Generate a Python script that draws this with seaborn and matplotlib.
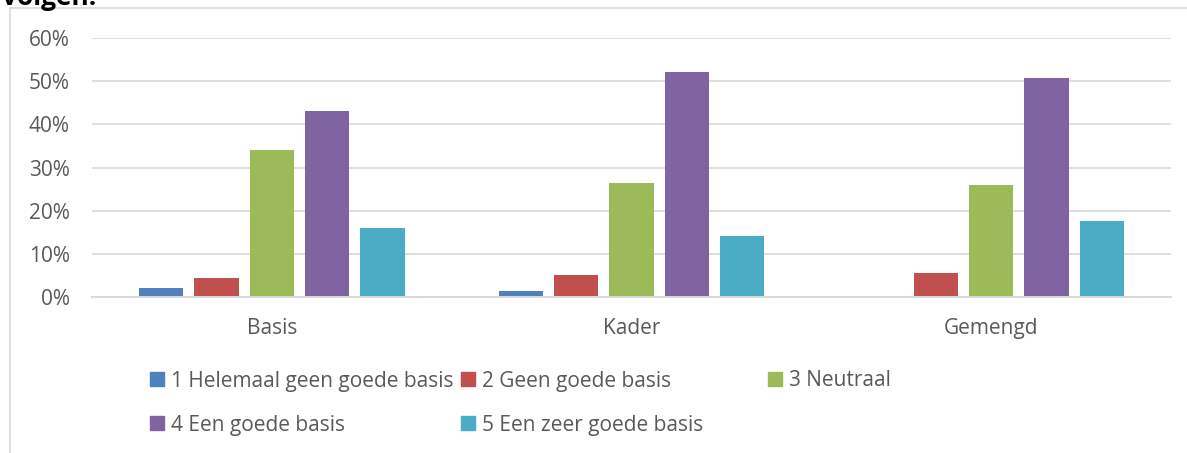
import matplotlib
matplotlib.use("Agg")
import matplotlib.pyplot as plt
import seaborn as sns
import pandas as pd
from matplotlib.lines import Line2D

categories = ["Basis", "Kader", "Gemengd"]
series = ["1 Helemaal geen goede basis", "2 Geen goede basis", "3 Neutraal",
          "4 Een goede basis", "5 Een zeer goede basis"]
values = {
    "1 Helemaal geen goede basis": [0.020, 0.015, 0.0],
    "2 Geen goede basis": [0.043, 0.050, 0.056],
    "3 Neutraal": [0.341, 0.265, 0.260],
    "4 Een goede basis": [0.431, 0.522, 0.507],
    "5 Een zeer goede basis": [0.161, 0.142, 0.175],
}
colors = ["#4F81BD", "#C0504D", "#9BBB59", "#8064A2", "#4BACC6"]
yticks = [0, 0.1, 0.2, 0.3, 0.4, 0.5, 0.6]
ytick_labels = ["0%", "10%", "20%", "30%", "40%", "50%", "60%"]

rows = []
for s in series:
    for c, v in zip(categories, values[s]):
        rows.append({"cat": c, "series": s, "val": v})
df = pd.DataFrame(rows)

sns.set_theme(style="white")
plt.rcParams["font.family"] = ["Open Sans", "DejaVu Sans"]

W, H = 1187, 453
fig = plt.figure(figsize=(W / 100, H / 100), dpi=100)
ax = fig.add_axes([92 / W, 1 - 297 / H, (1171 - 92) / W, (297 - 38) / H])

sns.barplot(data=df, x="cat", y="val", hue="series", order=categories,
            hue_order=series, palette=colors, width=0.77, gap=0.2,
            saturation=1, ax=ax, edgecolor="none", errorbar=None)

ax.set_ylim(0, 0.6)
ax.set_xlim(-0.5, 2.5)
ax.set_yticks(yticks)
ax.set_yticklabels(ytick_labels)
ax.set_xlabel("")
ax.set_ylabel("")
ax.grid(axis="y", color="#D9D9D9", linewidth=1.2)
ax.set_axisbelow(True)
for sp in ["top", "right", "left"]:
    ax.spines[sp].set_visible(False)
ax.spines["bottom"].set_color("#D9D9D9")
ax.spines["bottom"].set_linewidth(1.4)
ax.tick_params(axis="y", length=0, pad=16, labelsize=15, labelcolor="#595959")
ax.tick_params(axis="x", length=0, pad=15, labelsize=15, labelcolor="#595959")

handles, labels = ax.get_legend_handles_labels()
ax.get_legend().remove()

positions = [(150, 381), (461, 381), (768, 381), (150, 425), (461, 425)]
for h, l, (px, py) in zip(handles, labels, positions):
    hh = plt.Rectangle((0, 0), 1, 1, color=h.get_facecolor())
    fig.legend([hh], [l], loc="center left", bbox_to_anchor=(px / W, 1 - py / H),
               frameon=False, borderpad=0, borderaxespad=0, fontsize=15,
               handlelength=0.65, handleheight=0.65, handletextpad=0.35,
               labelcolor="#595959")

# chart border (top and left edges visible)
fig.add_artist(Line2D([10 / W, 1.0], [1 - 8 / H, 1 - 8 / H], transform=fig.transFigure,
                      color="#D9D9D9", linewidth=1.2))
fig.add_artist(Line2D([10 / W, 10 / W], [0, 1 - 8 / H], transform=fig.transFigure,
                      color="#D9D9D9", linewidth=1.2))

fig.text(0.002, 1 - 5 / H, "volgen:", fontsize=19, fontweight="bold", color="black",
         ha="left", va="baseline", family=["Open Sans", "DejaVu Sans"])

fig.savefig("out.png", dpi=100)
